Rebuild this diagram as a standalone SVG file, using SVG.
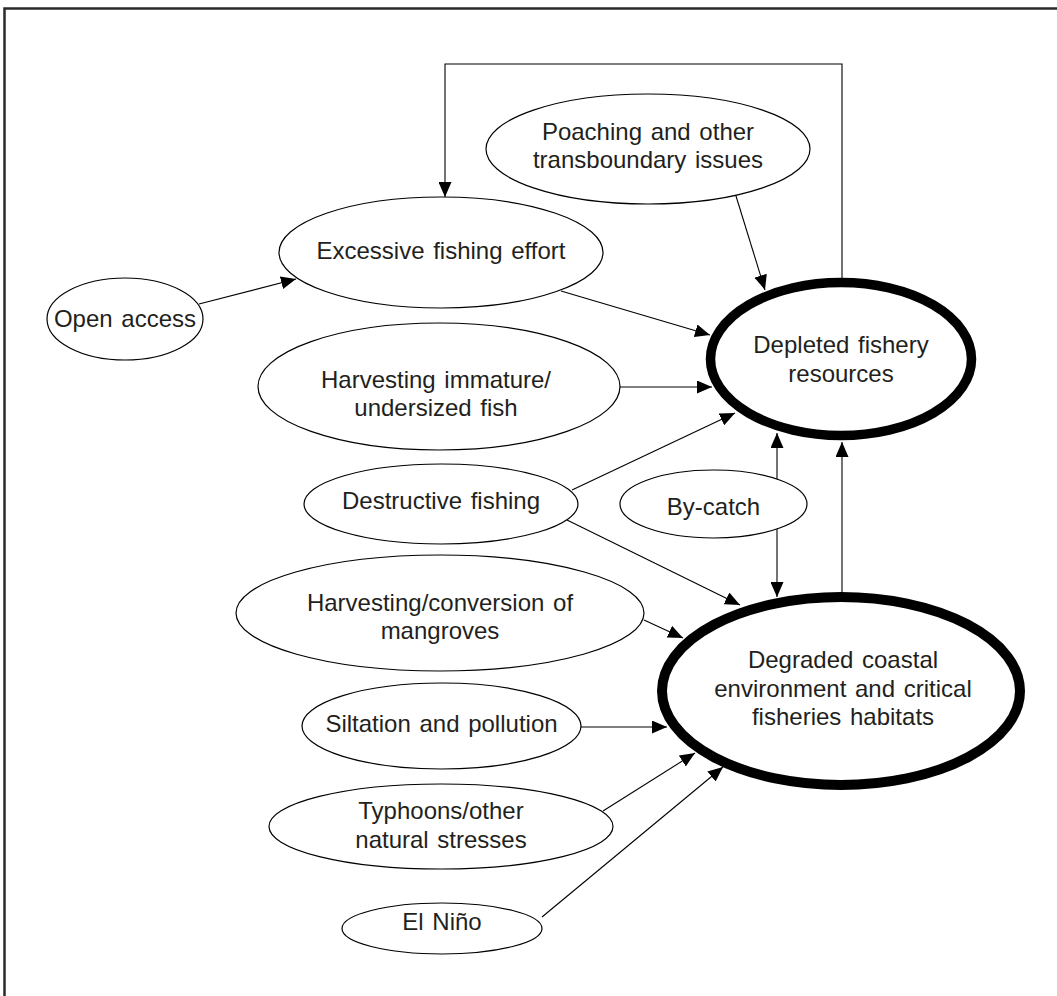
<svg xmlns="http://www.w3.org/2000/svg" width="1057" height="996" viewBox="0 0 1057 996">
  <style>
    .node { fill: #ffffff; stroke: #000000; stroke-width: 1.2; }
    .core { fill: #ffffff; stroke: #000000; }
    .lbl { font-family: "Liberation Sans", Arial, sans-serif; font-size: 24px; fill: #231f20; text-anchor: middle; word-spacing: 2px; }
    .edge { fill: none; stroke: #000000; stroke-width: 1.1; marker-end: url(#arrow); }
  </style>
  <defs>
    <marker id="arrow" markerUnits="userSpaceOnUse" markerWidth="15" markerHeight="13" refX="15" refY="6.5" orient="auto-start-reverse">
      <path d="M0,0 L15,6.5 L0,13 Z" fill="#000000"/>
    </marker>
  </defs>

  <rect width="1057" height="996" fill="#ffffff"/>
  <!-- frame (right and bottom edges run off the page) -->
  <path d="M4.5,996 V8.5 H1057" fill="none" stroke="#2a2a2a" stroke-width="2.5"/>

  <g id="connectors">
    <path class="edge" d="M199,304 L296,279"/>
    <path class="edge" d="M842,282 V64 H445 V197" stroke="#444444"/>
    <path class="edge" d="M736,196 L765,290"/>
    <path class="edge" d="M561,291 L710,335"/>
    <path class="edge" d="M620,387 L712,387"/>
    <path class="edge" d="M572,490 L735,413"/>
    <path class="edge" d="M777,433 L777,597" marker-start="url(#arrow)"/>
    <path class="edge" d="M842,593 L842,442"/>
    <path class="edge" d="M567,520 L740,605"/>
    <path class="edge" d="M644,620 L683,638"/>
    <path class="edge" d="M581,727 L667,727"/>
    <path class="edge" d="M603,811 L695,753"/>
    <path class="edge" d="M542,917 L723,767"/>
  </g>

  <g id="poaching">
    <ellipse class="node" cx="648" cy="149" rx="162" ry="55"/>
    <text class="lbl" x="648" y="140">Poaching and other</text>
    <text class="lbl" x="648" y="168">transboundary issues</text>
  </g>

  <g id="excessive-effort">
    <ellipse class="node" cx="441" cy="252.5" rx="162" ry="55.5"/>
    <text class="lbl" x="441" y="259">Excessive fishing effort</text>
  </g>

  <g id="open-access">
    <ellipse class="node" cx="125" cy="319" rx="78" ry="41"/>
    <text class="lbl" x="125" y="327">Open access</text>
  </g>

  <g id="immature-fish">
    <ellipse class="node" cx="439" cy="386.5" rx="181" ry="63.5"/>
    <text class="lbl" x="436" y="388">Harvesting immature/</text>
    <text class="lbl" x="436" y="416">undersized fish</text>
  </g>

  <g id="destructive-fishing">
    <ellipse class="node" cx="441" cy="504" rx="137" ry="40"/>
    <text class="lbl" x="441" y="509">Destructive fishing</text>
  </g>

  <g id="by-catch">
    <ellipse class="node" cx="713.5" cy="504" rx="93.5" ry="34"/>
    <text class="lbl" x="713.5" y="515">By-catch</text>
  </g>

  <g id="mangroves">
    <ellipse class="node" cx="440" cy="613" rx="204" ry="58"/>
    <text class="lbl" x="440" y="611">Harvesting/conversion of</text>
    <text class="lbl" x="440" y="639">mangroves</text>
  </g>

  <g id="siltation">
    <ellipse class="node" cx="441.5" cy="726" rx="139.5" ry="43"/>
    <text class="lbl" x="441.5" y="732">Siltation and pollution</text>
  </g>

  <g id="typhoons">
    <ellipse class="node" cx="441" cy="826.5" rx="172" ry="42.5"/>
    <text class="lbl" x="441" y="819">Typhoons/other</text>
    <text class="lbl" x="441" y="848">natural stresses</text>
  </g>

  <g id="el-nino">
    <ellipse class="node" cx="442" cy="928.5" rx="100" ry="25.5"/>
    <text class="lbl" x="442" y="930">El Niño</text>
  </g>

  <g id="depleted-resources">
    <ellipse class="core" cx="841" cy="359" rx="130.5" ry="76.5" stroke-width="9.5"/>
    <text class="lbl" x="841" y="353">Depleted fishery</text>
    <text class="lbl" x="841" y="382">resources</text>
  </g>

  <g id="degraded-habitats">
    <ellipse class="core" cx="841" cy="691" rx="179" ry="94" stroke-width="10"/>
    <text class="lbl" x="843" y="668">Degraded coastal</text>
    <text class="lbl" x="843" y="697">environment and critical</text>
    <text class="lbl" x="843" y="725">fisheries habitats</text>
  </g>
</svg>
